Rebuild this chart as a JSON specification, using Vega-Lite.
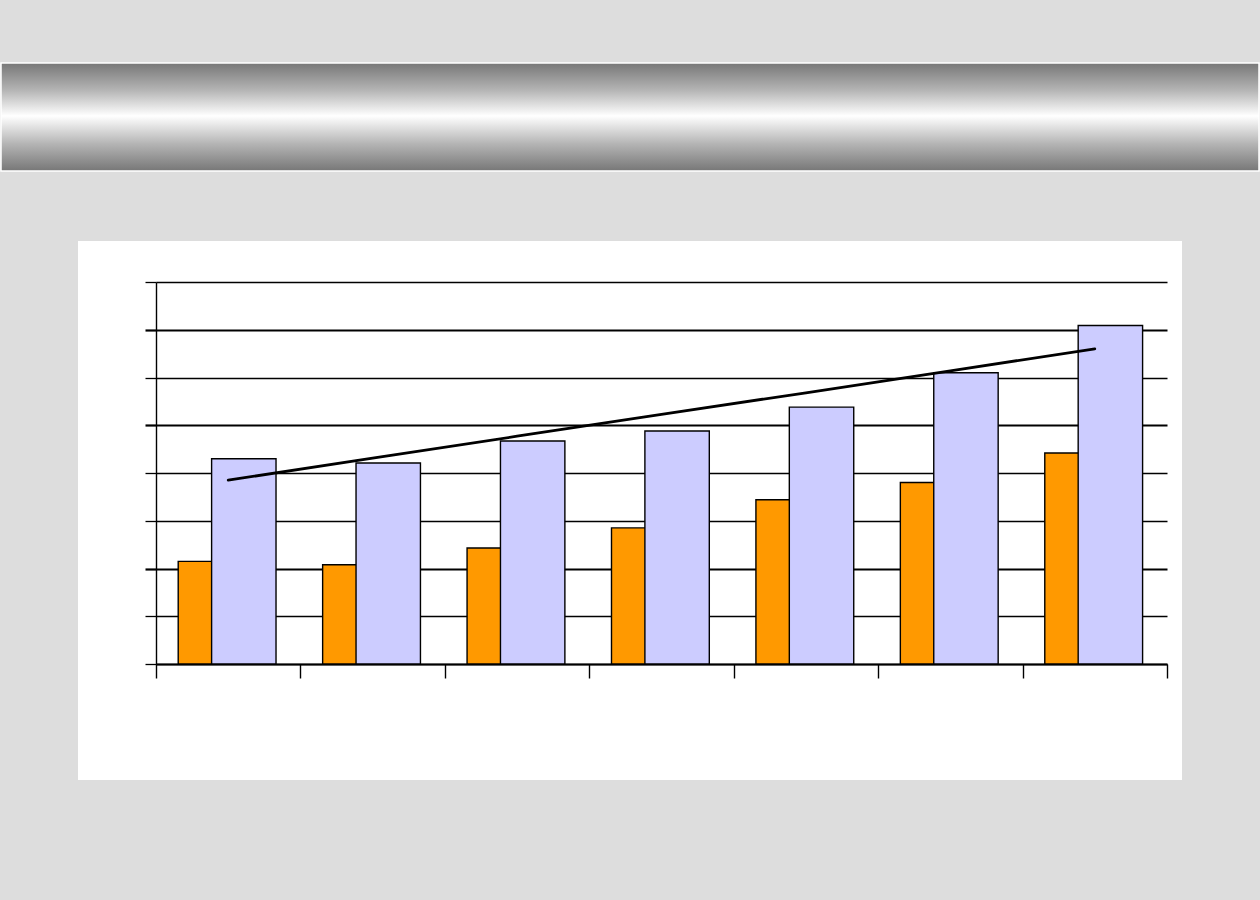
{
  "$schema": "https://vega.github.io/schema/vega-lite/v6.json",
  "width": 1104,
  "height": 539,
  "autosize": {"type": "none"},
  "padding": {"left": 78, "top": 241, "right": 78, "bottom": 120},
  "background": "#dddddd",
  "config": {"view": {"fill": "#ffffff", "stroke": null}},
  "datasets": {
    "banner": [{"part": "header"}],
    "bars": [
      {"period": "1", "orange": 2.15, "lavender": 4.30, "trend": 3.85},
      {"period": "2", "orange": 2.08, "lavender": 4.21, "trend": 4.31},
      {"period": "3", "orange": 2.43, "lavender": 4.67, "trend": 4.77},
      {"period": "4", "orange": 2.85, "lavender": 4.88, "trend": 5.23},
      {"period": "5", "orange": 3.44, "lavender": 5.38, "trend": 5.68},
      {"period": "6", "orange": 3.80, "lavender": 6.10, "trend": 6.14},
      {"period": "7", "orange": 4.42, "lavender": 7.09, "trend": 6.60}
    ]
  },
  "layer": [
    {
      "data": {"name": "banner"},
      "mark": {
        "type": "rect",
        "filled": true,
        "fill": {
          "gradient": "linear",
          "x1": 0, "y1": 0, "x2": 0, "y2": 1,
          "stops": [
            {"offset": 0, "color": "#777777"},
            {"offset": 0.25, "color": "#b4b4b4"},
            {"offset": 0.49, "color": "#ffffff"},
            {"offset": 0.75, "color": "#b4b4b4"},
            {"offset": 1, "color": "#777777"}
          ]
        },
        "stroke": "#ffffff",
        "strokeWidth": 1.5
      },
      "encoding": {
        "x": {"datum": 0, "type": "quantitative", "scale": {"domain": [0, 1], "range": [-77, 1181], "nice": false, "zero": false}, "axis": null},
        "x2": {"datum": 1},
        "y": {"datum": 0, "type": "quantitative", "scale": {"domain": [0, 1], "range": [-178, -70], "nice": false, "zero": false}, "axis": null},
        "y2": {"datum": 1}
      }
    },
    {
      "data": {"name": "bars"},
      "layer": [
        {
          "mark": {"type": "bar", "width": {"band": 0.446}, "xOffset": -17.8, "fill": "#ff9900", "stroke": "#000000", "strokeWidth": 1.4},
          "encoding": {
            "x": {
              "field": "period", "type": "nominal", "sort": null,
              "scale": {"range": [78, 1089], "paddingInner": 0, "paddingOuter": 0},
              "axis": {
                "orient": "bottom", "offset": -116, "title": null, "labels": false,
                "tickBand": "extent", "ticks": true, "tickSize": 14, "tickColor": "#000000", "tickWidth": 1.4,
                "domain": true, "domainColor": "#000000", "domainWidth": 2.2, "grid": false
              }
            },
            "y": {
              "field": "orange", "type": "quantitative",
              "scale": {"domain": [0, 8], "range": [423, 41], "nice": false, "zero": true},
              "axis": {
                "orient": "left", "offset": -78, "title": null, "labels": false,
                "values": [0, 1, 2, 3, 4, 5, 6, 7, 8],
                "ticks": true, "tickSize": 11, "tickColor": "#000000",
                "tickWidth": {"condition": {"test": "datum.value == 7 || datum.value == 5 || datum.value == 2", "value": 2.2}, "value": 1.3},
                "domain": true, "domainColor": "#000000", "domainWidth": 1.4,
                "grid": true, "gridColor": "#000000", "gridOpacity": 1,
                "gridWidth": {"condition": {"test": "datum.value == 7 || datum.value == 5 || datum.value == 2", "value": 2.2}, "value": 1.3}
              }
            }
          }
        },
        {
          "mark": {"type": "bar", "width": {"band": 0.446}, "xOffset": 15.6, "fill": "#ccccff", "stroke": "#000000", "strokeWidth": 1.4},
          "encoding": {
            "x": {"field": "period", "type": "nominal", "sort": null},
            "y": {"field": "lavender", "type": "quantitative"}
          }
        },
        {
          "mark": {"type": "line", "stroke": "#000000", "strokeWidth": 2.8, "strokeCap": "round"},
          "encoding": {
            "x": {"field": "period", "type": "nominal", "sort": null, "bandPosition": 0.5},
            "y": {"field": "trend", "type": "quantitative"}
          }
        }
      ]
    }
  ],
  "resolve": {"scale": {"x": "independent", "y": "independent"}}
}
